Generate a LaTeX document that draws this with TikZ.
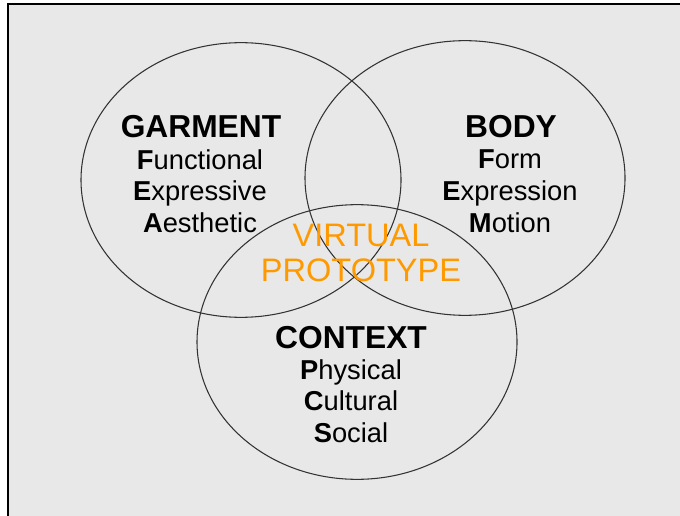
\documentclass[tikz,border=0pt]{standalone}
\usepackage{fontspec}
\setmainfont{Liberation Sans}
\usetikzlibrary{shapes.geometric}
\usepackage{xcolor}

\definecolor{panel}{HTML}{E8E8E8}
\definecolor{proto}{HTML}{FF9900}

\begin{document}
\begin{tikzpicture}[
  x=0.75pt, y=-0.75pt,
  ring/.style={ellipse, draw=black!80, line width=0.8pt, inner sep=0pt,
               minimum width=240pt, minimum height=206pt},
  title/.style={font=\fontsize{23.8}{23.8}\selectfont\bfseries, inner sep=0pt},
  items/.style={font=\fontsize{20.5}{23.8}\selectfont, align=center, inner sep=0pt},
  core/.style={font=\fontsize{24.4}{26}\selectfont, text=proto, align=center, inner sep=0pt},
]
  % --- Frame ---
  \useasboundingbox (0,0) rectangle (680,516);
  \fill[white] (0,0) rectangle (680,516);
  \fill[panel] (8,4) rectangle (680,516);
  \draw[black, line width=1.5pt] (8,516) -- (8,4) -- (680,4);

  % --- Three sets ---
  \node[ring] (garment) at (241,180) {};
  \node[ring] (body)    at (465,178) {};
  \node[ring] (context) at (357,342) {};

  % Garment
  \node[title] (garmentT) at (201,127) {GARMENT};
  \node[items] (garmentL) at (200,191)
    {\textbf{F}unctional\\\textbf{E}xpressive\\\textbf{A}esthetic};

  % Body
  \node[title] (bodyT) at (511,127) {BODY};
  \node[items] (bodyL) at (510,191)
    {\textbf{F}orm\\\textbf{E}xpression\\\textbf{M}otion};

  % Context
  \node[title] (contextT) at (351,338) {CONTEXT};
  \node[items] (contextL) at (351,401)
    {\textbf{P}hysical\\\textbf{C}ultural\\\textbf{S}ocial};

  % Shared middle
  \node[core] (virtual) at (361,253) {VIRTUAL\\PROTOTYPE};
\end{tikzpicture}
\end{document}
